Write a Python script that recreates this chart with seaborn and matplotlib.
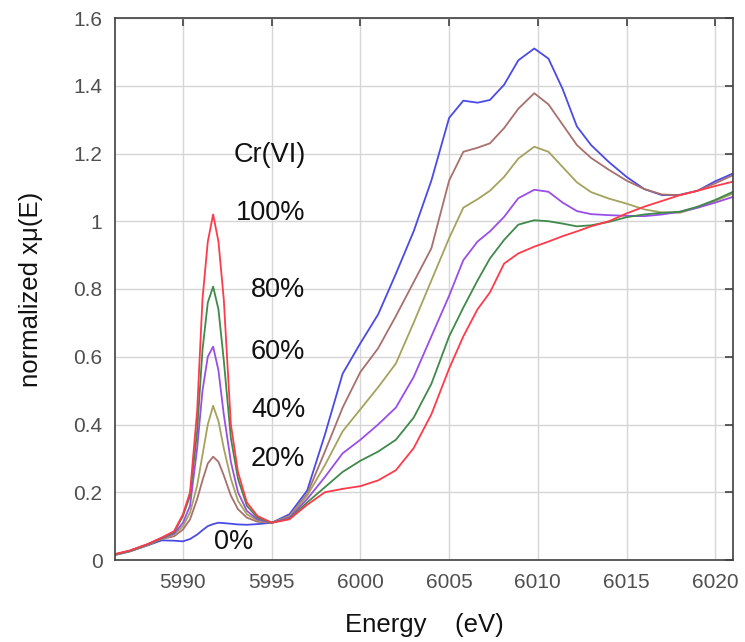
import numpy as np
import pandas as pd
import matplotlib
matplotlib.use("Agg")
import matplotlib.pyplot as plt
import seaborn as sns

# Energia (eV) - rejilla comun para todas las curvas
energia = [5986.2, 5987, 5988, 5988.8, 5989.5, 5990, 5990.4, 5990.8, 5991.1, 5991.4,
           5991.7, 5992.0, 5992.3, 5992.7, 5993.1, 5993.6, 5994.2, 5995, 5996, 5997,
           5998, 5999, 6000, 6001, 6002, 6003, 6004, 6005, 6005.8, 6006.6,
           6007.3, 6008.1, 6008.9, 6009.8, 6010.6, 6011.4, 6012.2, 6013, 6014, 6015,
           6016, 6017, 6018, 6019, 6020, 6021]

# Cr(VI) 0%
cr_0 = [0.015, 0.025, 0.043, 0.058, 0.057, 0.055, 0.062, 0.075, 0.088, 0.100,
        0.106, 0.110, 0.109, 0.107, 0.105, 0.104, 0.106, 0.110, 0.135, 0.205,
        0.370, 0.550, 0.640, 0.725, 0.845, 0.970, 1.120, 1.305, 1.356, 1.350,
        1.358, 1.403, 1.475, 1.510, 1.480, 1.390, 1.280, 1.225, 1.175, 1.131,
        1.095, 1.077, 1.078, 1.090, 1.118, 1.141]
# Cr(VI) 20%
cr_20 = [0.016, 0.026, 0.044, 0.062, 0.070, 0.090, 0.120, 0.180, 0.235, 0.285,
         0.305, 0.290, 0.250, 0.190, 0.150, 0.125, 0.113, 0.110, 0.130, 0.195,
         0.320, 0.450, 0.555, 0.625, 0.720, 0.820, 0.920, 1.120, 1.205, 1.217,
         1.230, 1.275, 1.332, 1.378, 1.345, 1.285, 1.225, 1.187, 1.152, 1.120,
         1.095, 1.079, 1.077, 1.090, 1.112, 1.136]
# Cr(VI) 40%
cr_40 = [0.016, 0.026, 0.045, 0.063, 0.075, 0.100, 0.140, 0.220, 0.310, 0.400,
         0.455, 0.410, 0.330, 0.240, 0.175, 0.135, 0.117, 0.110, 0.128, 0.190,
         0.280, 0.380, 0.445, 0.510, 0.580, 0.700, 0.825, 0.950, 1.040, 1.065,
         1.090, 1.131, 1.185, 1.220, 1.205, 1.160, 1.115, 1.086, 1.067, 1.052,
         1.035, 1.026, 1.025, 1.040, 1.060, 1.082]
# Cr(VI) 60%
cr_60 = [0.017, 0.027, 0.046, 0.064, 0.078, 0.110, 0.160, 0.330, 0.500, 0.600,
         0.630, 0.560, 0.430, 0.290, 0.200, 0.145, 0.120, 0.110, 0.125, 0.180,
         0.245, 0.315, 0.355, 0.400, 0.450, 0.540, 0.660, 0.780, 0.885, 0.940,
         0.970, 1.013, 1.068, 1.093, 1.087, 1.055, 1.030, 1.021, 1.018, 1.016,
         1.015, 1.020, 1.028, 1.040, 1.055, 1.072]
# Cr(VI) 80%
cr_80 = [0.017, 0.027, 0.046, 0.065, 0.082, 0.130, 0.190, 0.380, 0.620, 0.760,
         0.807, 0.740, 0.590, 0.360, 0.240, 0.160, 0.125, 0.110, 0.122, 0.170,
         0.215, 0.260, 0.293, 0.320, 0.355, 0.420, 0.520, 0.660, 0.745, 0.825,
         0.890, 0.945, 0.990, 1.003, 1.000, 0.993, 0.985, 0.988, 0.998, 1.012,
         1.020, 1.025, 1.028, 1.043, 1.063, 1.087]
# Cr(VI) 100%
cr_100 = [0.018, 0.028, 0.047, 0.066, 0.085, 0.135, 0.200, 0.440, 0.770, 0.940,
          1.020, 0.940, 0.770, 0.400, 0.260, 0.170, 0.130, 0.110, 0.120, 0.163,
          0.200, 0.210, 0.218, 0.235, 0.265, 0.330, 0.430, 0.565, 0.660, 0.740,
          0.790, 0.875, 0.905, 0.925, 0.940, 0.956, 0.970, 0.985, 1.000, 1.023,
          1.043, 1.060, 1.077, 1.090, 1.104, 1.117]

series = {"0%": cr_0, "20%": cr_20, "40%": cr_40,
          "60%": cr_60, "80%": cr_80, "100%": cr_100}
colores = {"0%": "#4a4ae6", "20%": "#a8706c", "40%": "#a4a25c",
           "60%": "#9a4ee8", "80%": "#3f8a4a", "100%": "#ff3a4a"}

xticks = [5990, 5995, 6000, 6005, 6010, 6015, 6020]
yticks = [0, 0.2, 0.4, 0.6, 0.8, 1.0, 1.2, 1.4, 1.6]
ytick_labels = ["0", "0.2", "0.4", "0.6", "0.8", "1", "1.2", "1.4", "1.6"]

# Etiquetas de porcentaje (texto, posicion en datos)
etiquetas = [("Cr(VI)", 5996.9, 1.196), ("100%", 5996.9, 1.024), ("80%", 5996.9, 0.797),
             ("60%", 5996.9, 0.614), ("40%", 5996.9, 0.443), ("20%", 5996.9, 0.298)]

df = pd.concat([pd.DataFrame({"energia": energia, "mu": v, "muestra": k})
                for k, v in series.items()], ignore_index=True)

sns.set_theme(style="white")
plt.rcParams['font.family'] = ['Liberation Sans', 'DejaVu Sans']

fig = plt.figure(figsize=(7.45, 6.42), dpi=100)
ax = fig.add_axes([115 / 745, 82 / 642, 618 / 745, 542 / 642])

sns.lineplot(data=df, x="energia", y="mu", hue="muestra", palette=colores,
             hue_order=list(series.keys()), linewidth=1.3, legend=False,
             sort=False, ax=ax)

ax.set_xlim(5986.17, 6021.0)
ax.set_ylim(0, 1.6)
ax.set_xticks(xticks)
ax.set_yticks(yticks)
ax.set_yticklabels(ytick_labels)
ax.grid(True, color="#d6d6d6", linewidth=1.0)
ax.set_axisbelow(True)
ax.tick_params(direction="in", length=6, width=1.2, color="#404040",
               top=True, right=True, labelsize=15, labelcolor="#505050", pad=9)
for s in ax.spines.values():
    s.set_color("#404040")
    s.set_linewidth(1.2)

ax.set_xlabel("Energy    (eV)", fontsize=18.5, color="#111111")
ax.set_ylabel("normalized xμ(E)", fontsize=18.5, color="#111111")
ax.xaxis.set_label_coords(0.5, -0.098)
ax.yaxis.set_label_coords(-0.116, 0.5)

for txt, ex, ey in etiquetas:
    ax.text(ex, ey, txt, fontsize=19.5, color="#111111", ha="right", va="center")
ax.text(5992.88, 0.053, "0%", fontsize=19.5, color="#111111", ha="center", va="center")

plt.savefig("out.png", dpi=100)
plt.close()
